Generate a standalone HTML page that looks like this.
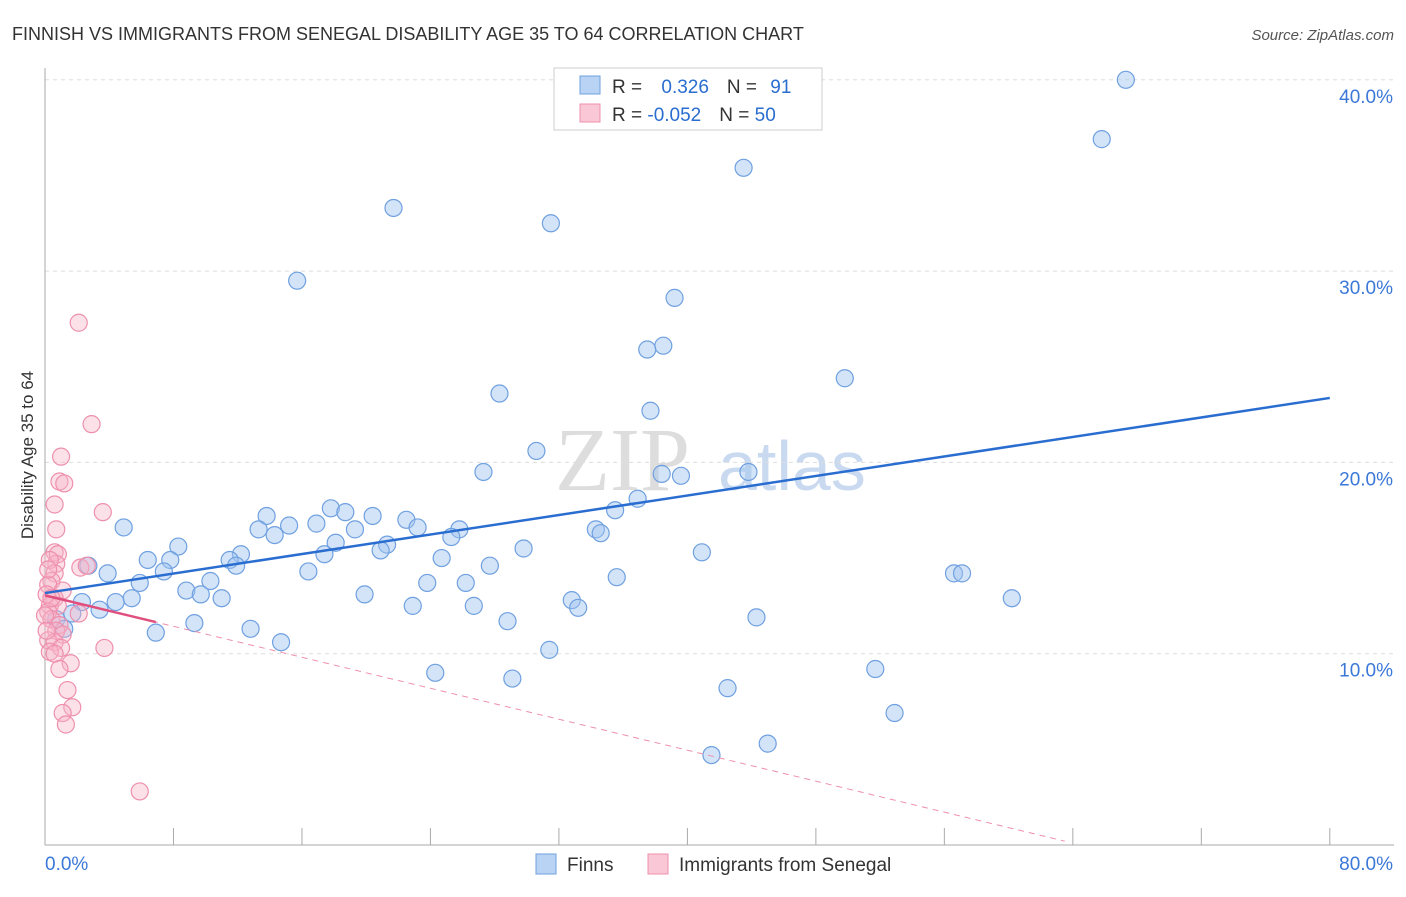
<!DOCTYPE html>
<html><head><meta charset="utf-8"><style>
body{margin:0;background:#fff;font-family:"Liberation Sans",sans-serif}
</style></head><body>
<svg id="c" width="1406" height="892" xmlns="http://www.w3.org/2000/svg" font-family="Liberation Sans, sans-serif">
<text x="12" y="40" font-size="18" fill="#333">FINNISH VS IMMIGRANTS FROM SENEGAL DISABILITY AGE 35 TO 64 CORRELATION CHART</text>
<text x="1394" y="40" font-size="15" fill="#555" font-style="italic" text-anchor="end">Source: ZipAtlas.com</text>
<text x="33" y="455" font-size="17" fill="#333" text-anchor="middle" transform="rotate(-90 33 455)">Disability Age 35 to 64</text>
<text x="555" y="490" font-size="90" fill="#ddd" font-family="Liberation Serif, serif">ZIP</text>
<text x="718" y="490" font-size="70" fill="#c9daf0">atlas</text>
<g id="grid"></g><g id="axes"></g><g id="pts"></g><g id="lines"></g>
<g>
<rect x="554" y="68" width="268" height="62" fill="#fff" stroke="#ccc"/>
<rect x="580" y="76" width="20" height="18" fill="#b9d3f5" stroke="#6fa0e0"/>
<rect x="580" y="104" width="20" height="18" fill="#f9c7d6" stroke="#ee90ad"/>
<text x="612" y="93" font-size="19" fill="#333">R = <tspan fill="#2a6dd0" dx="14">0.326</tspan><tspan dx="18" fill="#333">N = </tspan><tspan dx="8" fill="#2a6dd0">91</tspan></text>
<text x="612" y="121" font-size="19" fill="#333">R = <tspan fill="#2a6dd0">-0.052</tspan><tspan dx="18" fill="#333">N = </tspan><tspan fill="#2a6dd0">50</tspan></text>
</g>
<g>
<rect x="536" y="854" width="20" height="20" fill="#b9d3f5" stroke="#6fa0e0"/>
<text x="567" y="871" font-size="19" fill="#333">Finns</text>
<rect x="648" y="854" width="20" height="20" fill="#f9c7d6" stroke="#ee90ad"/>
<text x="679" y="871" font-size="19" fill="#333">Immigrants from Senegal</text>
</g>
</svg>
<script>
const yTicks=[10,20,30,40];
const yTickLabels=["10.0%","20.0%","30.0%","40.0%"];
const xTickLabels=["0.0%","80.0%"];
const finnsX=[67.3,65.8,43.5,21.7,31.5,15.7,39.2,38.5,37.5,49.8,28.3,37.7,30.6,27.3,38.4,39.6,43.8,36.9,35.5,17.8,18.7,13.8,22.5,20.4,34.3,34.6,13.3,15.2,16.9,23.2,25.8,25.3,19.3,14.3,18.1,4.9,21.3,20.9,29.8,8.3,12.2,11.5,6.4,7.8,17.4,24.7,40.9,27.7,11.9,2.7,7.4,16.4,3.9,56.6,57.1,10.3,5.9,35.6,23.8,26.2,8.8,9.7,11.0,5.4,19.9,60.2,2.3,4.4,32.8,33.2,22.9,26.7,3.4,1.7,0.7,44.3,9.3,28.8,1.2,12.8,6.9,14.7,31.4,51.7,24.3,29.1,42.5,52.9,45.0,41.5];
const finnsY=[40.0,36.9,35.4,33.3,32.5,29.5,28.6,26.1,25.9,24.4,23.6,22.7,20.6,19.5,19.4,19.3,19.5,18.1,17.5,17.6,17.4,17.2,17.0,17.2,16.5,16.3,16.5,16.7,16.8,16.6,16.5,16.1,16.5,16.2,15.8,16.6,15.7,15.4,15.5,15.6,15.2,14.9,14.9,14.9,15.2,15.0,15.3,14.6,14.6,14.6,14.3,14.3,14.2,14.2,14.2,13.8,13.7,14.0,13.7,13.7,13.3,13.1,12.9,12.9,13.1,12.9,12.7,12.7,12.8,12.4,12.5,12.5,12.3,12.1,11.8,11.9,11.6,11.7,11.3,11.3,11.1,10.6,10.2,9.2,9.0,8.7,8.2,6.9,5.3,4.7];
const senX=[2.1,2.9,1.0,0.9,1.2,0.6,3.6,0.7,0.6,0.8,0.7,0.3,2.2,2.6,0.6,0.4,0.2,1.1,0.6,0.3,0.8,2.1,0.2,0.4,0.9,0.7,1.1,0.2,0.6,1.0,3.7,0.3,0.6,1.6,0.9,1.4,1.7,1.1,1.3,5.9,0.0,0.1,0.1,0.4,0.2];
const senY=[27.3,22.0,20.3,19.0,18.9,17.8,17.4,16.5,15.3,15.2,14.7,14.9,14.5,14.6,14.2,13.8,13.6,13.3,12.9,12.5,12.5,12.1,12.2,11.8,11.5,11.2,11.0,10.7,10.6,10.3,10.3,10.1,10.0,9.5,9.2,8.1,7.2,6.9,6.3,2.8,12.0,11.2,13.1,12.9,14.4];
const blueLine=[13.17,23.37];
const pinkLine=[13.05,0.2];
const X=v=>45+v*16.06, Y=v=>845-v*19.13;
const NS="http://www.w3.org/2000/svg";
function mk(t,a,p){const e=document.createElementNS(NS,t);for(const k in a)e.setAttribute(k,a[k]);document.getElementById(p).appendChild(e);return e;}
yTicks.forEach((t,i)=>{
 const l=mk('line',{x1:45,x2:1394,y1:Y(t),y2:Y(t),stroke:'#ddd','stroke-dasharray':'4,4'},'grid');
 
 
 const tx=mk('text',{x:1393,y:Y(t)+23,'font-size':19,fill:'#3b78d8','text-anchor':'end'},'grid');
 tx.textContent=yTickLabels[i];
 
 
});
mk('line',{x1:45,x2:45,y1:68,y2:845,stroke:'#aaa'},'axes');
mk('line',{x1:45,x2:1394,y1:845,y2:845,stroke:'#aaa'},'axes');
for(let i=1;i<=10;i++){const t=mk('line',{x1:X(i*8),x2:X(i*8),y1:828,y2:845,stroke:'#aaa'},'axes');
 
 }
const xl0=mk('text',{x:45,y:870,'font-size':19,fill:'#3b78d8'},'axes');xl0.textContent=xTickLabels[0];


const xl1=mk('text',{x:1393,y:870,'font-size':19,fill:'#3b78d8','text-anchor':'end'},'axes');xl1.textContent=xTickLabels[1];


finnsX.forEach((x,i)=>{const c=mk('circle',{cx:X(x),cy:Y(finnsY[i]),r:8.5,fill:'rgba(160,196,240,0.45)',stroke:'#6fa0e0','stroke-width':1.2},'pts');
 
 });
senX.forEach((x,i)=>{const c=mk('circle',{cx:X(x),cy:Y(senY[i]),r:8.5,fill:'rgba(248,180,200,0.4)',stroke:'#ee90ad','stroke-width':1.2},'pts');
 
 });
const bl=mk('line',{x1:X(0),y1:Y(blueLine[0]),x2:X(80),y2:Y(blueLine[1]),stroke:'#2a6dd0','stroke-width':2.5},'lines');


const pe=(pinkLine[0]-pinkLine[1]);const py=x=>pinkLine[0]-pe*x/63.5;
const pd=mk('line',{x1:X(0),y1:Y(pinkLine[0]),x2:X(63.5),y2:Y(py(63.5)),stroke:'#ee90ad','stroke-width':1,'stroke-dasharray':'6,5'},'lines');


const ps=mk('line',{x1:X(0),y1:Y(pinkLine[0]),x2:X(6.9),y2:Y(py(6.9)),stroke:'#e0507e','stroke-width':2.5},'lines');


</script>
</body></html>
